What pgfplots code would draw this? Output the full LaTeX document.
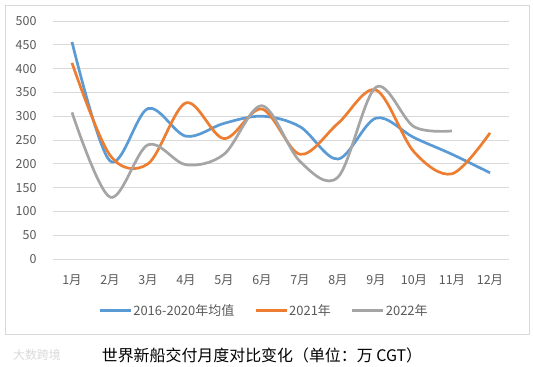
\documentclass[border=0pt]{standalone}
\usepackage{fontspec}
\setmainfont{Noto Sans CJK SC}
\newfontfamily\cjk{Noto Sans CJK SC}
\usepackage{pgfplots}
\pgfplotsset{compat=1.18}
\definecolor{cblue}{HTML}{5B9BD5}
\definecolor{corange}{HTML}{ED7D31}
\definecolor{cgray}{HTML}{A5A5A5}
\definecolor{cgrid}{HTML}{D9D9D9}
\definecolor{ctext}{HTML}{595959}
\begin{document}
\begin{tikzpicture}
\useasboundingbox (-53bp,-108bp) rectangle (480bp,259bp);
\draw[cgrid, line width=0.8bp] (-48bp,-75bp) rectangle (476bp,254bp);
\begin{axis}[
  at={(0,0)}, anchor=origin,
  scale only axis, width=456bp, height=238bp,
  xmin=0.5, xmax=12.5, ymin=0, ymax=500,
  axis line style={draw=none},
  xtick={1,...,12},
  xticklabels={1月,2月,3月,4月,5月,6月,7月,8月,9月,10月,11月,12月},
  x tick label style={font=\cjk\fontsize{12.5}{14}\selectfont, text=ctext, anchor=center, yshift=-21bp},
  ytick={0,50,...,500},
  y tick label style={font=\fontsize{12.5}{14}\selectfont, text=ctext, anchor=east, xshift=-13bp},
  /pgf/number format/assume math mode=true,
  major tick length=0pt,
  ymajorgrids, grid style={cgrid, line width=0.8bp},
  legend columns=3,
  legend style={draw=none, at={(0.4616,-0.218)}, anchor=center,
    font=\cjk\fontsize{13}{15}\selectfont, text=ctext,
    nodes={inner xsep=1bp},
    /tikz/every even column/.append style={column sep=19bp}},
  legend image code/.code={\draw[#1, line width=3bp] (0bp,0bp) -- (31bp,0bp);},
  every axis plot/.append style={line width=2.7bp, smooth, tension=0.55, no markers},
]
\addplot[cblue] coordinates {(1,456) (2,206) (3,316) (4,258) (5,285) (6,300) (7,278) (8,210) (9,296) (10,255) (11,220) (12,181)};
\addplot[corange] coordinates {(1,412) (2,218) (3,200) (4,328) (5,253) (6,315) (7,220) (8,285) (9,355) (10,225) (11,179) (12,265)};
\addplot[cgray] coordinates {(1,308) (2,130) (3,240) (4,198) (5,220) (6,322) (7,205) (8,172) (9,361) (10,278) (11,269)};
\legend{2016-2020年均值,2021年,2022年}
\end{axis}
\node[font=\cjk\fontsize{16}{18}\selectfont, anchor=center] at (209bp,-96bp) {世界新船交付月度对比变化（单位：万 CGT）};
\node[font=\cjk\fontsize{12}{13}\selectfont, text=black!15, anchor=center] at (-16bp,-96bp) {大数跨境};
\end{tikzpicture}
\end{document}
